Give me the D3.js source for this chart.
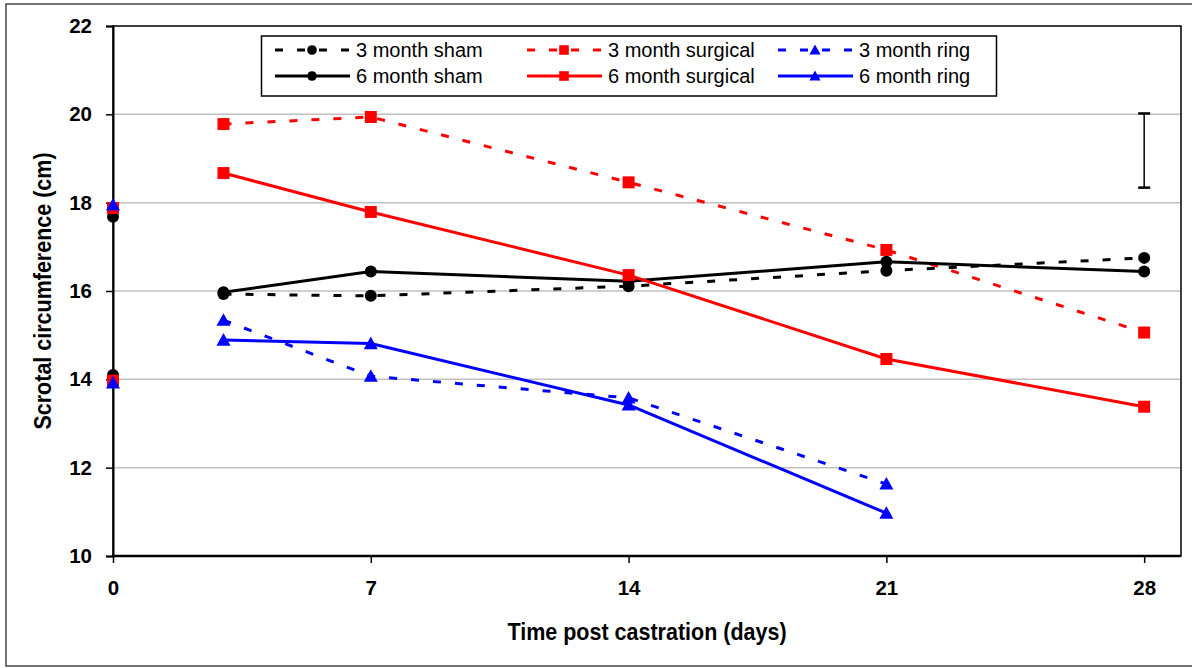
<!DOCTYPE html>
<html>
<head>
<meta charset="utf-8">
<script src="https://cdn.jsdelivr.net/npm/d3@7"></script>
<style>
  html, body { margin: 0; padding: 0; background: #fff; }
  svg { display: block; font-family: Arial, "Liberation Sans", sans-serif; }
</style>
</head>
<body>
<svg id="chart" width="1192" height="668"></svg>
<script>
// ---- data ----
const days = [0, 3, 7, 14, 21, 28];
const xTicks = [0, 7, 14, 21, 28];
const yTicks = [10, 12, 14, 16, 18, 20, 22];
const sham3 = [14.10, 15.93, 15.89, 16.11, 16.46, 16.75];
const surg3 = [13.97, 19.78, 19.94, 18.46, 16.93, 15.06];
const ring3 = [13.92, 15.34, 14.07, 13.58, 11.63, null];
const sham6 = [17.68, 15.97, 16.44, 16.22, 16.66, 16.44];
const surg6 = [17.88, 18.67, 17.79, 16.36, 14.46, 13.38];
const ring6 = [17.95, 14.89, 14.81, 13.42, 10.97, null];
const seriesNames = ["3 month sham", "3 month surgical", "3 month ring",
                     "6 month sham", "6 month surgical", "6 month ring"];
const errorBarDay = 28;
const errorBarLow = 18.34;
const errorBarHigh = 20.02;

const seriesValues = [sham3, surg3, ring3, sham6, surg6, ring6];
const styles = [
  {color: "#000000", dash: "8,14", marker: "circle"},
  {color: "#ff0000", dash: "8,14", marker: "square"},
  {color: "#0000ff", dash: "8,14", marker: "triangle"},
  {color: "#000000", dash: null, marker: "circle"},
  {color: "#ff0000", dash: null, marker: "square"},
  {color: "#0000ff", dash: null, marker: "triangle"}
];

const svg = d3.select("#chart");
const L = 113, R = 1181, T = 26, B = 556;
const x = d3.scaleLinear().domain([0, 29]).range([L, R]);
const y = d3.scaleLinear().domain([10, 22]).range([B, T]);

// outer border
svg.append("rect").attr("x", 6).attr("y", 4).attr("width", 1200).attr("height", 662)
  .attr("fill", "none").attr("stroke", "#444").attr("stroke-width", 1.5);

// gridlines
svg.append("g").selectAll("line").data(yTicks.filter(v => v > 10 && v < 22)).join("line")
  .attr("x1", L).attr("x2", R).attr("y1", d => y(d)).attr("y2", d => y(d))
  .attr("stroke", "#c0c0c0").attr("stroke-width", 1.5);

// plot border
svg.append("rect").attr("x", L).attr("y", T).attr("width", R - L).attr("height", B - T)
  .attr("fill", "none").attr("stroke", "#000").attr("stroke-width", 1.5);

// axes
const yAxis = d3.axisLeft(y).tickValues(yTicks).tickSize(7).tickPadding(14).tickFormat(d3.format("d"));
const gy = svg.append("g").attr("transform", `translate(${L},0)`).call(yAxis);
gy.select(".domain").attr("stroke", "#000").attr("stroke-width", 2);
gy.selectAll(".tick line").attr("stroke", "#000").attr("stroke-width", 1.5);
gy.selectAll(".tick text").attr("font-size", 20.5).attr("font-weight", "bold").attr("fill", "#000")
  .attr("font-family", "Arial, 'Liberation Sans', sans-serif");

const xAxis = d3.axisBottom(x).tickValues(xTicks).tickSize(7).tickPadding(17).tickFormat(d3.format("d"));
const gx = svg.append("g").attr("transform", `translate(0,${B})`).call(xAxis);
gx.select(".domain").attr("stroke", "#000").attr("stroke-width", 2.5)
  .attr("d", `M${L},0H${R}`);
gx.selectAll(".tick line").attr("stroke", "#000").attr("stroke-width", 1.5);
gx.selectAll(".tick text").attr("font-size", 20.5).attr("font-weight", "bold").attr("fill", "#000")
  .attr("font-family", "Arial, 'Liberation Sans', sans-serif");

// axis titles
svg.append("text").attr("transform", `translate(${(L + R) / 2},640) scale(1,1.1)`)
  .attr("text-anchor", "middle")
  .attr("font-size", 21.5).attr("font-weight", "bold").text("Time post castration (days)");
svg.append("text").attr("transform", `translate(51,${(T + B) / 2}) rotate(-90) scale(1,1.1)`)
  .attr("text-anchor", "middle").attr("font-size", 21.5).attr("font-weight", "bold")
  .text("Scrotal circumference (cm)");

// marker drawing
function drawMarker(g, type, cx, cy, color, s) {
  if (type === "circle") {
    g.append("circle").attr("cx", cx).attr("cy", cy).attr("r", 6 * s).attr("fill", color);
  } else if (type === "square") {
    const h = 6 * s;
    g.append("rect").attr("x", cx - h).attr("y", cy - h).attr("width", 2 * h).attr("height", 2 * h).attr("fill", color);
  } else {
    const h = 7 * s;
    g.append("path").attr("d", `M${cx},${cy - h}L${cx + h},${cy + h * 0.8}L${cx - h},${cy + h * 0.8}Z`).attr("fill", color);
  }
}

// series
const plot = svg.append("g");
seriesValues.forEach((vals, si) => {
  const st = styles[si];
  const pts = days.map((d, i) => ({d, v: vals[i], i}));
  const line = d3.line().defined(p => p.i > 0 && p.v != null).x(p => x(p.d)).y(p => y(p.v));
  plot.append("path").attr("d", line(pts)).attr("fill", "none").attr("stroke", st.color)
    .attr("stroke-width", 3).attr("stroke-dasharray", st.dash).attr("stroke-linejoin", "round");
  const mg = plot.append("g");
  pts.filter(p => p.v != null).forEach(p => drawMarker(mg, st.marker, x(p.d), y(p.v), st.color, 1));
});

// error bar
const eb = svg.append("g").attr("stroke", "#000");
eb.append("line").attr("x1", x(errorBarDay)).attr("x2", x(errorBarDay))
  .attr("y1", y(errorBarLow)).attr("y2", y(errorBarHigh)).attr("stroke-width", 1.5);
[errorBarLow, errorBarHigh].forEach(v => eb.append("line")
  .attr("x1", x(errorBarDay) - 6).attr("x2", x(errorBarDay) + 6)
  .attr("y1", y(v)).attr("y2", y(v)).attr("stroke-width", 2.5));

// legend
const lg = svg.append("g");
lg.append("rect").attr("x", 261.5).attr("y", 36).attr("width", 735).attr("height", 60)
  .attr("fill", "#fff").attr("stroke", "#000").attr("stroke-width", 1.5);
const colX = [275, 527, 778];
const rowY = [50, 76];
seriesNames.forEach((name, i) => {
  const col = i % 3, row = Math.floor(i / 3);
  const st = styles[i];
  const x0 = colX[col], yy = rowY[row];
  lg.append("line").attr("x1", x0).attr("x2", x0 + 75).attr("y1", yy).attr("y2", yy)
    .attr("stroke", st.color).attr("stroke-width", 3).attr("stroke-dasharray", st.dash);
  drawMarker(lg, st.marker, x0 + 37, yy, st.color, 0.8);
  lg.append("text").attr("x", x0 + 81).attr("y", yy).attr("dy", "0.36em")
    .attr("font-size", 20).attr("fill", "#000").text(name);
});
</script>
</body>
</html>
